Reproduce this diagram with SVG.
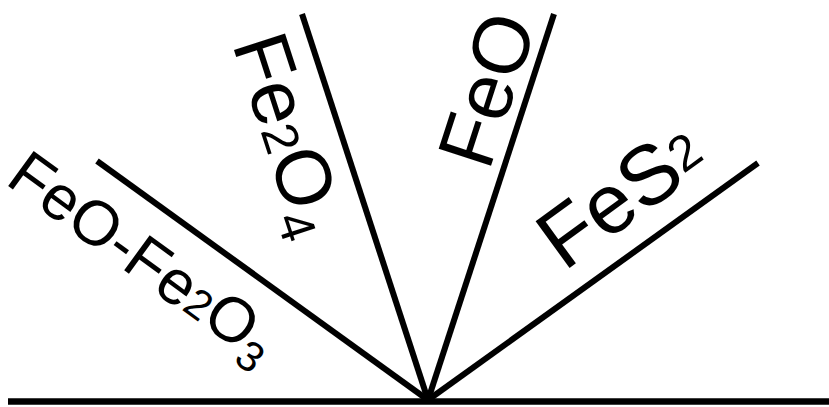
<svg xmlns="http://www.w3.org/2000/svg" width="829" height="407" viewBox="0 0 829 407">
<style>
.ln{stroke:#000;stroke-width:6;stroke-linecap:butt;fill:none}
.t{font-family:"Liberation Sans",Arial,sans-serif;fill:#000}
</style>
<rect width="829" height="407" fill="#fff"/>
<g id="connectors">
<line class="ln" x1="8" y1="401.5" x2="829" y2="401.5" style="stroke-width:6.5"/>
<line class="ln" x1="97" y1="161" x2="428" y2="400"/>
<line class="ln" x1="302" y1="14" x2="428" y2="400"/>
<line class="ln" x1="554" y1="14" x2="428" y2="400"/>
<line class="ln" x1="758" y1="163" x2="428" y2="400"/>
</g>
<g id="label-feo-fe2o3">
<text class="t" font-size="63" transform="translate(4,183) rotate(36)">FeO-Fe<tspan font-size="42" dy="-2">2</tspan>O<tspan font-size="42" dy="12">3</tspan></text>
</g>
<g id="label-fe2o4">
<text class="t" font-size="78" transform="translate(232,44) rotate(72)">Fe<tspan font-size="50">2</tspan>O<tspan font-size="50" dy="12">4</tspan></text>
</g>
<g id="label-feo">
<text class="t" font-size="80" transform="translate(489,172) rotate(-72)">FeO</text>
</g>
<g id="label-fes2">
<text class="t" font-size="84" transform="translate(564,272) rotate(-36)">FeS<tspan font-size="50" dy="-9">2</tspan></text>
</g>
</svg>
